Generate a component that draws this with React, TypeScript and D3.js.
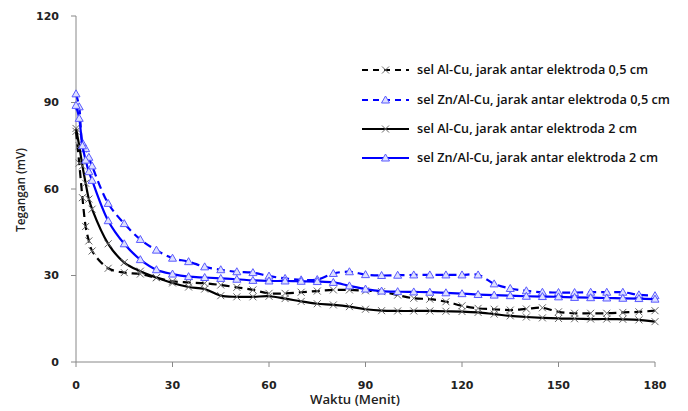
import React from "react";
import * as d3 from "d3";

const times = [0, 1, 2, 3, 4, 5, 10, 15, 20, 25, 30, 35, 40, 45, 50, 55, 60, 65, 70, 75, 80, 85, 90, 95, 100, 105, 110, 115, 120, 125, 130, 135, 140, 145, 150, 155, 160, 165, 170, 175, 180];

const alCu05 = [80, 69, 57, 47, 42, 38.5, 32.5, 31, 30.5, 29.2, 28, 27.6, 27.3, 26.7, 25.9, 25, 23.8, 23.8, 24.2, 24.6, 25, 25, 24.7, 24.4, 23.2, 22.1, 21.8, 20.9, 19.5, 18.6, 18.3, 18, 18.4, 18.8, 17.4, 16.9, 16.9, 16.9, 17.2, 17.4, 17.8];
const znAlCu05 = [93, 88.5, 76, 74, 71, 68, 55, 48, 42.5, 38.8, 36, 34.8, 33, 32, 31.3, 31, 29.8, 29, 28.5, 28.6, 30.7, 31.3, 30.3, 30, 30.1, 30.2, 30.2, 30.2, 30.2, 30.2, 27.1, 25.5, 24.7, 24.2, 24.1, 24.1, 24.2, 24.2, 24.2, 23.3, 23];
const alCu2 = [81, 75, 68, 62, 56.5, 53, 41, 34.5, 31.5, 29.3, 27.4, 26, 25.3, 23, 22.6, 22.6, 22.8, 22, 21, 20.2, 19.8, 19.2, 18.3, 17.8, 17.7, 17.7, 17.7, 17.6, 17.5, 17.2, 16.6, 16, 15.6, 15.3, 15.1, 15, 14.9, 14.9, 14.8, 14.6, 14];
const znAlCu2 = [89, 84.5, 75, 70, 66, 63, 49, 41, 35.5, 32, 30.5, 29.6, 29.3, 29, 28.7, 28.3, 28.1, 28.1, 28, 27.9, 27.6, 26.4, 25.3, 24.6, 24.4, 24.3, 24.2, 24, 23.7, 23.4, 23.2, 23, 22.8, 22.7, 22.6, 22.4, 22.3, 22.2, 22.1, 22, 21.8];

const seriesNames = [
  "sel Al-Cu, jarak antar elektroda 0,5 cm",
  "sel Zn/Al-Cu, jarak antar elektroda 0,5 cm",
  "sel Al-Cu, jarak antar elektroda 2 cm",
  "sel Zn/Al-Cu, jarak antar elektroda 2 cm",
];
const xTicks = [0, 30, 60, 90, 120, 150, 180];
const yTicks = [0, 30, 60, 90, 120];

const W = 688, H = 411;
const x0 = 76, x1 = 655, yTop = 16, yBot = 362;

export default function App() {
  const x = d3.scaleLinear().domain([0, 180]).range([x0, x1]);
  const y = d3.scaleLinear().domain([0, 120]).range([yBot, yTop]);
  const series = [
    { name: seriesNames[0], values: alCu05, color: "#000000", dash: "8,5", marker: "x", tl: 231 },
    { name: seriesNames[1], values: znAlCu05, color: "#0000ff", dash: "8,5", marker: "tri", tl: 253 },
    { name: seriesNames[2], values: alCu2, color: "#000000", dash: null, marker: "x", tl: 220 },
    { name: seriesNames[3], values: znAlCu2, color: "#0000ff", dash: null, marker: "tri", tl: 241 },
  ];
  const line = d3
    .line<number>()
    .x((_, i) => x(times[i]))
    .y((d) => y(d))
    .curve(d3.curveCatmullRom.alpha(0.5));

  const marker = (type: string, cx: number, cy: number, key: string | number) =>
    type === "x" ? (
      <path key={key} d={`M${cx - 3.5},${cy - 3.5}L${cx + 3.5},${cy + 3.5}M${cx - 3.5},${cy + 3.5}L${cx + 3.5},${cy - 3.5}`} stroke="#666" strokeWidth={1} fill="none" />
    ) : (
      <path key={key} d={`M${cx},${cy - 4}L${cx + 4},${cy + 3}L${cx - 4},${cy + 3}Z`} stroke="#5a5aff" strokeWidth={1} fill="#dde0ff" />
    );

  const tickFont = { fontFamily: "'DejaVu Sans', Verdana, sans-serif", fontSize: 11, fontWeight: 700, fill: "#222" } as const;
  const legendY = [70, 100, 129, 158];

  return (
    <svg width={W} height={H} style={{ position: "absolute", left: 0, top: 0, background: "#fff" }}>
      <rect width={W} height={H} fill="#fff" />
      <line x1={x0} x2={x0} y1={yTop} y2={yBot} stroke="#888" />
      <line x1={x0} x2={x1} y1={yBot} y2={yBot} stroke="#888" />
      {yTicks.map((t) => (
        <g key={"y" + t}>
          <line x1={x0 - 5} x2={x0} y1={y(t)} y2={y(t)} stroke="#888" />
          <text x={59} y={y(t)} dy="0.35em" textAnchor="end" {...tickFont}>{t}</text>
        </g>
      ))}
      {xTicks.map((t) => (
        <g key={"x" + t}>
          <line x1={x(t)} x2={x(t)} y1={yBot} y2={yBot + 5} stroke="#888" />
          <text x={x(t)} y={385} dy="0.35em" textAnchor="middle" {...tickFont}>{t}</text>
        </g>
      ))}
      <text x={355} y={400} dy="0.35em" textAnchor="middle" fontFamily="'Open Sans', sans-serif" fontSize={12} fontWeight={600} fill="#222" textLength={90} lengthAdjust="spacingAndGlyphs">Waktu (Menit)</text>
      <text transform={`translate(21,190) rotate(-90)`} textAnchor="middle" dy="0.35em" fontFamily="'Open Sans', sans-serif" fontSize={12} fontWeight={600} fill="#222" textLength={84} lengthAdjust="spacingAndGlyphs">Tegangan (mV)</text>

      {series.map((s, si) => (
        <g key={"s" + si}>
          <path d={line(s.values) || ""} fill="none" stroke={s.color} strokeWidth={2.2} strokeDasharray={s.dash || undefined} />
          {s.values.map((v, i) => marker(s.marker, x(times[i]), y(v), i))}
        </g>
      ))}

      {series.map((s, si) => (
        <g key={"l" + si}>
          <line x1={362} x2={409} y1={legendY[si]} y2={legendY[si]} stroke={s.color} strokeWidth={2} strokeDasharray={s.dash ? "6,5" : undefined} />
          {marker(s.marker, 385.5, legendY[si], "m")}
          <text x={417} y={legendY[si]} dy="0.35em" fontFamily="'Open Sans', sans-serif" fontSize={12} fontWeight={600} fill="#111" textLength={s.tl} lengthAdjust="spacingAndGlyphs">{s.name}</text>
        </g>
      ))}
    </svg>
  );
}
